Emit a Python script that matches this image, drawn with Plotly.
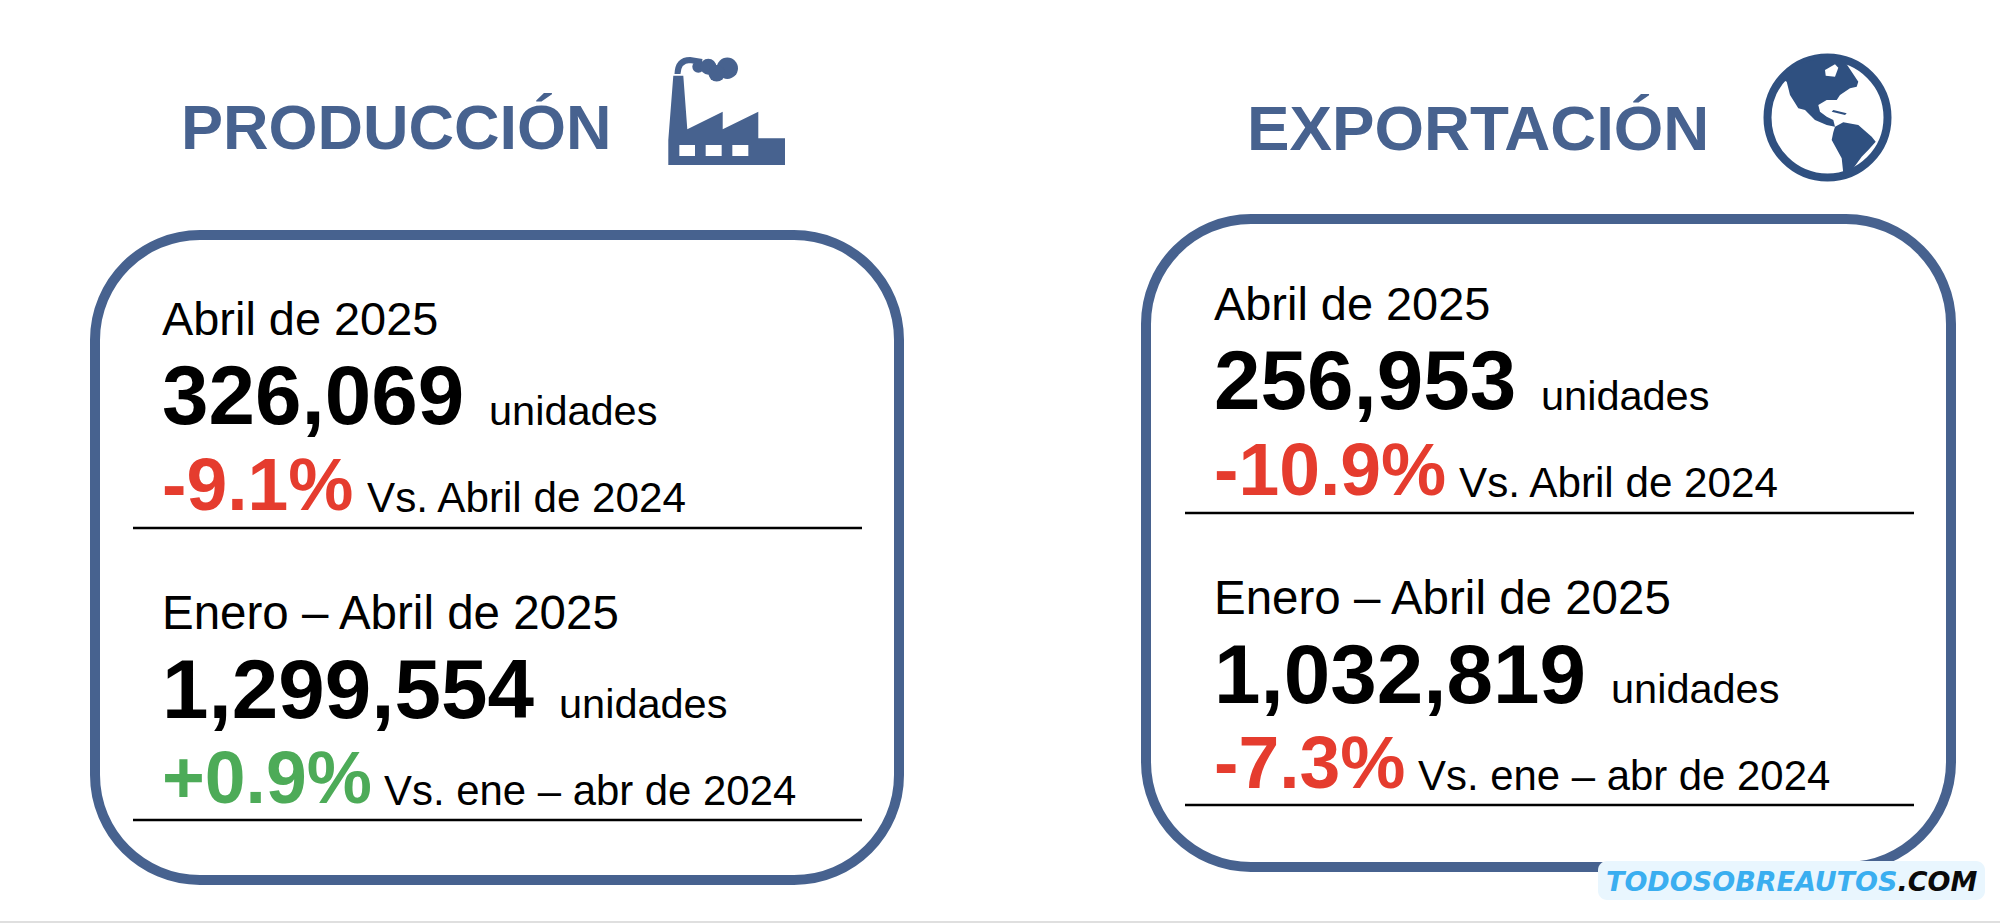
import plotly.graph_objects as go

# --- data ---
titles = ["PRODUCCIÓN", "EXPORTACIÓN"]
period_month = "Abril de 2025"
period_ytd = "Enero – Abril de 2025"
unit = "unidades"
vs_month = "Vs. Abril de 2024"
vs_ytd = "Vs. ene – abr de 2024"
month_units = ["326,069", "256,953"]
ytd_units = ["1,299,554", "1,032,819"]
month_change = ["-9.1%", "-10.9%"]
ytd_change = ["+0.9%", "-7.3%"]

# --- styles ---
BLUE = "#47628f"
DARK = "#2f5080"
RED = "#e53c2e"
GREEN = "#4dab58"
FONT = "Liberation Sans"

# --- layout helpers ---
panels = [
    dict(x0=95, x1=899, y0=235, y1=880, dx=0, dy=0, title_x=181, title_size=63,
         unit_x=(489, 559), vs_x=(367, 384)),
    dict(x0=1146, x1=1951, y0=219, y1=867, dx=1052, dy=-15, title_x=1247, title_size=63.7,
         unit_x=(1541, 1611), vs_x=(1459, 1418)),
]


def rounded(x0, y0, x1, y1, r, k=0.5523):
    c = r * (1 - k)
    return (f"M{x0+r},{y0} L{x1-r},{y0} C{x1-c},{y0} {x1},{y0+c} {x1},{y0+r} L{x1},{y1-r} "
            f"C{x1},{y1-c} {x1-c},{y1} {x1-r},{y1} L{x0+r},{y1} C{x0+c},{y1} {x0},{y1-c} {x0},{y1-r} "
            f"L{x0},{y0+r} C{x0},{y0+c} {x0+c},{y0} {x0+r},{y0} Z")


def poly(points, ox=0, oy=0, s=1.0):
    return "M" + " L".join(f"{ox + a * s:.1f},{oy + b * s:.1f}" for a, b in points) + " Z"


shapes = []
annotations = []


def label(x, y, text, size, color="#000000", bold=False, font=FONT, anchor="left"):
    annotations.append(dict(
        x=x, y=y, xref="x", yref="y", xanchor=anchor, yanchor="middle", showarrow=False,
        text=f"<b>{text}</b>" if bold else text,
        font=dict(family=font, size=size, color=color), borderpad=0, borderwidth=0,
    ))


for i, p in enumerate(panels):
    shapes.append(dict(type="path", path=rounded(p["x0"], p["y0"], p["x1"], p["y1"], 105),
                       line=dict(color=BLUE, width=10), fillcolor="rgba(0,0,0,0)", layer="below"))
    for y in (528, 820):
        shapes.append(dict(type="line", x0=133 + p["dx"], x1=862 + p["dx"], y0=y + p["dy"], y1=y + p["dy"],
                           line=dict(color="#000000", width=2.5)))
    tx = 162 + p["dx"]
    label(p["title_x"], 127, titles[i], p["title_size"], BLUE, True)
    label(tx, 319 + p["dy"], period_month, 46.9)
    label(tx, 395 + p["dy"], month_units[i], 83.6, bold=True)
    label(p["unit_x"][0], 410 + p["dy"], unit, 41.5)
    label(tx, 485 + p["dy"], month_change[i], 73.3, RED, True)
    label(p["vs_x"][0], 497 + p["dy"], vs_month, 42.2)
    label(tx, 612 + p["dy"], period_ytd, 47.5)
    label(tx, 689 + p["dy"], ytd_units[i], 83.6, bold=True)
    label(p["unit_x"][1], 703 + p["dy"], unit, 41.5)
    label(tx, 778 + p["dy"], ytd_change[i], 73.3, GREEN if ytd_change[i].startswith("+") else RED, True)
    label(p["vs_x"][1], 790 + p["dy"], vs_ytd, 41.9)

# factory icon (outline traced in a local grid, one third of a pixel per unit)
FX, FY, ICON = 650, 45, 1 / 3
shapes.append(dict(type="path", line=dict(width=0), fillcolor=BLUE, path=poly([
    (55, 360), (55, 285), (70, 92), (100, 92), (112, 253), (218, 200), (218, 253),
    (325, 200), (325, 280), (405, 280), (405, 360)], FX, FY, ICON)))
for a, b in ((88, 135), (167, 215), (247, 295)):
    shapes.append(dict(type="rect", x0=FX + a * ICON, x1=FX + b * ICON, y0=FY + 300 * ICON, y1=FY + 333 * ICON,
                       fillcolor="#ffffff", line=dict(width=0)))
shapes.append(dict(type="path", path="M677.5,74 Q678,60 690,60 L702,62",
                   line=dict(color=BLUE, width=6), fillcolor="rgba(0,0,0,0)"))
for cx, cy, r in ((698.3, 66.7, 6), (708.3, 66.7, 8), (727.3, 68.3, 10.7), (716.7, 73.3, 8.3)):
    shapes.append(dict(type="circle", x0=cx - r, x1=cx + r, y0=cy - r, y1=cy + r,
                       fillcolor=BLUE, line=dict(width=0)))

# globe icon (same kind of local grid)
GX, GY = 1755, 45
shapes.append(dict(type="circle", x0=1767.5, x1=1887.5, y0=57.5, y1=177.5,
                   line=dict(color=DARK, width=8), fillcolor="#ffffff"))
shapes.append(dict(type="path", line=dict(width=0), fillcolor=DARK, path=poly([
    (85, 105), (140, 55), (210, 35), (270, 50), (310, 110), (305, 125), (285, 130), (255, 150),
    (245, 165), (215, 165), (190, 180), (195, 200), (215, 215), (235, 225), (240, 245), (215, 240),
    (180, 225), (150, 195), (130, 190), (105, 150), (95, 110)], GX, GY, ICON)))
shapes.append(dict(type="path", line=dict(width=0), fillcolor="#ffffff", path=poly([
    (210, 75), (240, 58), (250, 68), (240, 95), (212, 92)], GX, GY, ICON)))
shapes.append(dict(type="path", line=dict(width=0), fillcolor=DARK, path=poly([
    (235, 195), (275, 205), (270, 210), (230, 200)], GX, GY, ICON)))
shapes.append(dict(type="path", line=dict(width=0), fillcolor=DARK, path=poly([
    (240, 245), (265, 232), (310, 240), (350, 275), (362, 290), (340, 315), (320, 335), (295, 370),
    (265, 385), (260, 340), (230, 285), (235, 262)], GX, GY, ICON)))

# watermark
shapes.append(dict(type="path", path=rounded(1598, 861, 1985, 900, 9), fillcolor="#e9f6fe",
                   line=dict(width=0)))
annotations.append(dict(
    x=1791, y=881, xref="x", yref="y", xanchor="center", yanchor="middle", showarrow=False,
    text='<b><i><span style="color:#3aaef0">TODOSOBREAUTOS</span><span style="color:#0a0a0a">.COM</span></i></b>',
    font=dict(family="DejaVu Sans", size=27),
))
# bottom rule
shapes.append(dict(type="line", x0=0, x1=2000, y0=922, y1=922, line=dict(color="#d4d4d4", width=1.5)))

fig = go.Figure()
fig.add_trace(go.Scatter(x=[0, 2000], y=[0, 923], mode="markers", marker=dict(opacity=0), hoverinfo="skip"))
fig.update_layout(
    width=2000, height=923, margin=dict(l=0, r=0, t=0, b=0),
    paper_bgcolor="#ffffff", plot_bgcolor="#ffffff", showlegend=False,
    xaxis=dict(range=[0, 2000], visible=False, fixedrange=True),
    yaxis=dict(range=[923, 0], visible=False, fixedrange=True),
    shapes=shapes, annotations=annotations,
)
fig.write_html("out.html", config=dict(displayModeBar=False),
               post_script="document.body.style.margin='0';document.documentElement.style.overflow='hidden';")
